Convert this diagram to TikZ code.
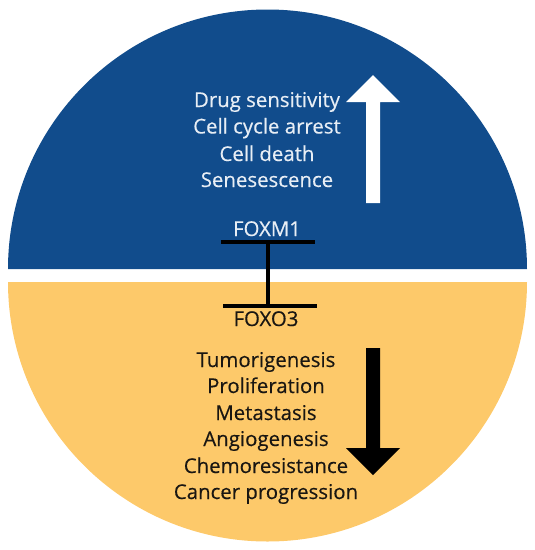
\documentclass[tikz,border=0pt]{standalone}
\usepackage{fontspec}
\setmainfont{Open Sans}
\newfontfamily\lblfont{Open Sans}[FakeBold=0.35]
\definecolor{topblue}{RGB}{17,76,140}
\definecolor{botyellow}{RGB}{253,201,106}
\definecolor{toptext}{RGB}{232,238,245}
\definecolor{bottext}{RGB}{25,22,18}
\begin{document}
\begin{tikzpicture}[x=1pt,y=-1pt,
  lbl/.style={font=\lblfont\fontsize{20.4}{20.4}\selectfont, inner sep=0pt, anchor=base},
  uplbl/.style={lbl, text=toptext},
  dnlbl/.style={lbl, text=bottext},
  inhib/.style={line width=3.2pt, black}]
\useasboundingbox (0,0) rectangle (535,550);
% halves of the circle
\fill[topblue] (8,269) arc[start angle=180, end angle=0, x radius=259.5, y radius=-259.5] -- cycle;
\fill[botyellow] (8,282) arc[start angle=180, end angle=360, x radius=259.5, y radius=-259.5] -- cycle;
% up arrow
\fill[white] (366,203) -- (366,102) -- (346,102) -- (373,75) -- (400,102) -- (380,102) -- (380,203) -- cycle;
% down arrow
\fill[black] (366,348) -- (380,348) -- (380,448) -- (400,448) -- (373,475) -- (346,448) -- (366,448) -- cycle;
% top labels
\node[uplbl] (t1) at (267,107) {Drug sensitivity};
\node[uplbl] (t2) at (267,133.5) {Cell cycle arrest};
\node[uplbl] (t3) at (267,161) {Cell death};
\node[uplbl] (t4) at (267,187) {Senesescence};
% bottom labels
\node[dnlbl] (b1) at (266,367) {Tumorigenesis};
\node[dnlbl] (b2) at (266,393) {Proliferation};
\node[dnlbl] (b3) at (266,420) {Metastasis};
\node[dnlbl] (b4) at (266,446) {Angiogenesis};
\node[dnlbl] (b5) at (266,473) {Chemoresistance};
\node[dnlbl] (b6) at (266,499) {Cancer progression};
% genes
\node[uplbl] (foxm) at (267,236) {FOXM1};
\node[dnlbl] (foxo) at (266,326) {FOXO3};
\coordinate (topbarL) at (221,242);
\coordinate (topbarR) at (315,242);
\coordinate (topmid) at (268,242);
\coordinate (botbarL) at (223,306);
\coordinate (botbarR) at (317,306);
\coordinate (botmid) at (268,306);
\draw[inhib] (topbarL) -- (topbarR);
\draw[inhib] (botbarL) -- (botbarR);
\draw[inhib] (topmid) -- (botmid);
\end{tikzpicture}
\end{document}
